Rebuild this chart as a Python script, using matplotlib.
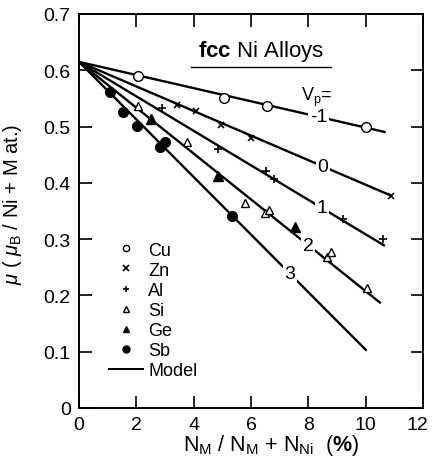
import matplotlib
matplotlib.use("Agg")
import matplotlib.pyplot as plt
from matplotlib.lines import Line2D
from matplotlib.transforms import ScaledTranslation

plt.rcParams['font.family'] = ['Liberation Sans', 'DejaVu Sans']
plt.rcParams['mathtext.fontset'] = 'custom'
plt.rcParams['mathtext.rm'] = 'Liberation Sans'
plt.rcParams['mathtext.it'] = 'Liberation Sans:italic'
plt.rcParams['mathtext.bf'] = 'Liberation Sans:bold'

# ---- data ----
cu_x = [2.05, 5.05, 6.55, 10.0]
cu_y = [0.590, 0.550, 0.537, 0.499]
zn_x = [3.43, 4.08, 4.97, 6.0, 10.9]
zn_y = [0.539, 0.527, 0.502, 0.479, 0.377]
al_x = [2.88, 4.86, 6.52, 6.8, 9.2, 10.6]
al_y = [0.533, 0.461, 0.421, 0.407, 0.336, 0.301]
si_x = [2.07, 3.76, 5.8, 6.49, 6.64, 8.66, 8.79, 10.03]
si_y = [0.537, 0.473, 0.365, 0.347, 0.352, 0.268, 0.277, 0.214]
ge_x = [2.5, 4.84, 7.53]
ge_y = [0.513, 0.412, 0.321]
sb_x = [1.08, 1.55, 2.03, 2.83, 3.0, 5.33]
sb_y = [0.561, 0.525, 0.501, 0.463, 0.472, 0.342]

model_y0 = 0.615
model_vp = ['-1', '0', '1', '2', '3']
model_x_end = [10.7, 10.9, 10.67, 10.53, 10.03]
model_y_end = [0.490, 0.377, 0.288, 0.186, 0.102]
label_x = [8.35, 8.5, 8.47, 8.0, 7.36]

xticks = [0, 2, 4, 6, 8, 10, 12]
yticks = [0, 0.1, 0.2, 0.3, 0.4, 0.5, 0.6, 0.7]
ytick_labels = ['0', '0.1', '0.2', '0.3', '0.4', '0.5', '0.6', '0.7']

fig = plt.figure(figsize=(4.32, 4.60), dpi=100)
ax = fig.add_axes([79/432, 51/460, 344/432, 394/460])
ax.set_xlim(0, 12)
ax.set_ylim(0, 0.7)

lw = 1.7
for vp, xe, ye, lx in zip(model_vp, model_x_end, model_y_end, label_x):
    ax.plot([0, xe], [model_y0, ye], color='black', lw=lw, solid_capstyle='butt', zorder=2)
    ly = model_y0 + (ye - model_y0) * lx / xe
    ax.text(lx, ly, vp, fontsize=14, ha='center', va='center', zorder=3,
            bbox=dict(boxstyle='square,pad=0.08', fc='white', ec='none'))

ax.text(8.3, 0.553, r'V$_{\rm p}$=', fontsize=13, ha='center', va='center')

mk = dict(color='black', linestyle='none', zorder=4)
ax.plot(cu_x, cu_y, marker='o', ms=7, mfc='white', mec='black', mew=1.0, **mk)
ax.plot(zn_x, zn_y, marker='x', ms=5, mew=1.2, **mk)
ax.plot(al_x, al_y, marker='+', ms=6, mew=1.2, **mk)
ax.plot(si_x, si_y, marker='^', ms=6, mfc='white', mec='black', mew=1.0, **mk)
ax.plot(ge_x, ge_y, marker='^', ms=6.5, **mk)
ax.plot(sb_x, sb_y, marker='o', ms=7, **mk)

# legend
handles = [
    Line2D([], [], marker='o', ms=4.5, mfc='white', mec='black', mew=1.0, ls='none', color='black'),
    Line2D([], [], marker='x', ms=4, mew=1.2, ls='none', color='black'),
    Line2D([], [], marker='+', ms=5, mew=1.2, ls='none', color='black'),
    Line2D([], [], marker='^', ms=5, mfc='white', mec='black', mew=1.0, ls='none', color='black'),
    Line2D([], [], marker='^', ms=5, ls='none', color='black'),
    Line2D([], [], marker='o', ms=5, ls='none', color='black'),
    Line2D([], [], color='black', lw=1.4),
]
names = ['Cu', 'Zn', 'Al', 'Si', 'Ge', 'Sb', 'Model']
ax.legend(handles, names, frameon=False, fontsize=13, loc='upper left',
          bbox_to_anchor=(0.062, 0.445), handlelength=1.85, handletextpad=0.3,
          labelspacing=0.17, borderpad=0)

# title
ax.text(6.35, 0.636, r'$\mathbf{fcc}$ Ni Alloys', fontsize=16, ha='center', va='center')
ax.plot([3.9, 8.8], [0.606, 0.606], color='black', lw=1.0, clip_on=False)

ax.set_xticks(xticks)
ax.set_xticklabels([str(t) for t in xticks])
ax.set_yticks(yticks)
ax.set_yticklabels(ytick_labels)
ax.tick_params(direction='in', top=True, right=True, length=9, width=1.2,
               labelsize=14, pad=6)
for s in ax.spines.values():
    s.set_linewidth(1.4)

last = ax.get_xticklabels()[-1]
last.set_transform(last.get_transform() + ScaledTranslation(-4/72, 0, fig.dpi_scale_trans))

ax.set_xlabel(r'N$_{\rm M}$ / N$_{\rm M}$ + N$_{\rm Ni}$  ($\mathbf{\%}$)', fontsize=15.5)
ax.xaxis.set_label_coords(0.56, -0.06)
ax.set_ylabel(r'$\mu$ ( $\mu_{\rm B}$ / Ni + M at.)', fontsize=14.5)
ax.yaxis.set_label_coords(-0.16, 0.52)

fig.savefig('out.png', dpi=100)
